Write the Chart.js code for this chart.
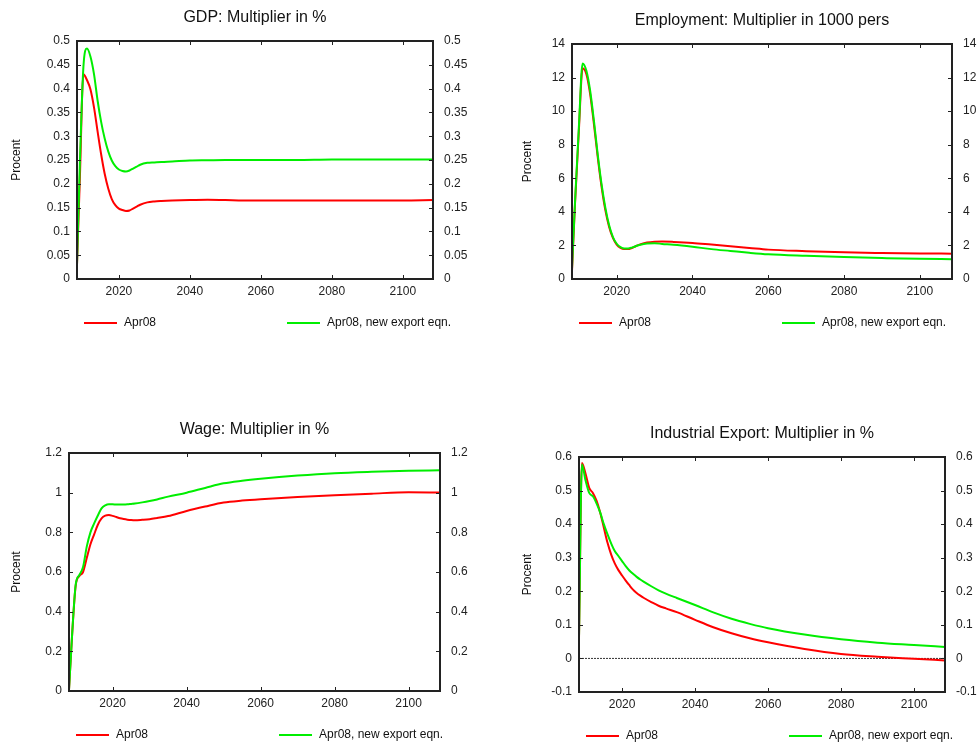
<!DOCTYPE html>
<html lang="en">
<head>
<meta charset="UTF-8">
<title>Multipliers: Apr08 vs new export eqn.</title>
<script src="https://cdn.jsdelivr.net/npm/chart.js"></script>
<style>
    body {
        margin: 0;
        background: #fff;
    }
    #wrap {
        position: relative;
        width: 979px;
        height: 745px;
    }
    canvas {
        position: absolute;
    }
</style>
</head>
<body>
<div id="wrap">
    <canvas id="gdp" width="490" height="370" style="left:0;top:0"></canvas>
    <canvas id="emp" width="489" height="370" style="left:490px;top:0"></canvas>
    <canvas id="wage" width="490" height="375" style="left:0;top:370px"></canvas>
    <canvas id="export" width="489" height="375" style="left:490px;top:370px"></canvas>
</div>
<script>
    // years shared by all four panels
    const years = [2008.2, 2009, 2010, 2011, 2012, 2013, 2014, 2015, 2016, 2017, 2018, 2019, 2020,
        2021, 2022, 2023, 2024, 2025, 2026, 2028, 2030, 2032, 2035, 2040, 2045, 2050, 2055, 2060,
        2070, 2080, 2090, 2100, 2108.5];
    const xTicks = [2020, 2040, 2060, 2080, 2100];
    const seriesNames = ["Apr08", "Apr08, new export eqn."];

    // GDP: Multiplier in %
    const gdpApr08 = [0.03, 0.21, 0.43, 0.418, 0.398, 0.36, 0.31, 0.262, 0.221, 0.19, 0.168, 0.155, 0.148,
        0.145, 0.143, 0.144, 0.148, 0.152, 0.156, 0.161, 0.163, 0.164, 0.165, 0.166, 0.1665, 0.166, 0.165, 0.165,
        0.165, 0.165, 0.165, 0.165, 0.166];
    const gdpNewExport = [0.03, 0.24, 0.445, 0.484, 0.467, 0.43, 0.375, 0.33, 0.295, 0.268, 0.249, 0.237, 0.23,
        0.227, 0.226, 0.228, 0.232, 0.236, 0.24, 0.244, 0.245, 0.246, 0.247, 0.249, 0.2495, 0.25, 0.25, 0.25,
        0.25, 0.251, 0.251, 0.251, 0.251];
    const gdpTicks = [0, 0.05, 0.1, 0.15, 0.2, 0.25, 0.3, 0.35, 0.4, 0.45, 0.5];

    // Employment: Multiplier in 1000 pers
    const empApr08 = [0.5, 4.5, 8.8, 12.55, 12.2, 11.0, 9.2, 7.25, 5.5, 4.1, 3.1, 2.45, 2.05,
        1.85, 1.78, 1.78, 1.85, 1.95, 2.05, 2.17, 2.22, 2.23, 2.21, 2.15, 2.05, 1.95, 1.85, 1.75,
        1.66, 1.59, 1.55, 1.52, 1.51];
    const empNewExport = [0.6, 4.6, 9.0, 12.84, 12.4, 11.2, 9.4, 7.4, 5.65, 4.25, 3.2, 2.5, 2.1,
        1.9, 1.82, 1.82, 1.87, 1.95, 2.03, 2.12, 2.13, 2.09, 2.04, 1.92, 1.78, 1.67, 1.56, 1.47,
        1.38, 1.31, 1.25, 1.2, 1.18];
    const empTicks = [0, 2, 4, 6, 8, 10, 12, 14];

    // Wage: Multiplier in %
    const wageApr08 = [0.005, 0.27, 0.53, 0.58, 0.60, 0.67, 0.74, 0.79, 0.838, 0.87, 0.884, 0.887, 0.883,
        0.877, 0.871, 0.867, 0.864, 0.862, 0.861, 0.863, 0.866, 0.872, 0.882, 0.908, 0.93, 0.95, 0.96, 0.967,
        0.978, 0.987, 0.995, 1.002, 1.001];
    const wageNewExport = [0.005, 0.27, 0.535, 0.585, 0.625, 0.728, 0.80, 0.845, 0.885, 0.921, 0.936, 0.941, 0.941,
        0.94, 0.94, 0.94, 0.941, 0.943, 0.945, 0.951, 0.958, 0.966, 0.98, 1.0, 1.024, 1.047, 1.06, 1.07,
        1.086, 1.098, 1.105, 1.11, 1.113];
    const wageTicks = [0, 0.2, 0.4, 0.6, 0.8, 1, 1.2];

    // Industrial Export: Multiplier in %
    const exportApr08 = [0.06, 0.582, 0.55, 0.508, 0.493, 0.47, 0.435, 0.39, 0.345, 0.31, 0.283, 0.263, 0.247,
        0.232, 0.218, 0.205, 0.195, 0.187, 0.18, 0.168, 0.157, 0.149, 0.138, 0.115, 0.093, 0.075, 0.06, 0.048,
        0.028, 0.013, 0.005, -0.001, -0.006];
    const exportNewExport = [0.06, 0.578, 0.53, 0.493, 0.483, 0.462, 0.435, 0.40, 0.37, 0.343, 0.32, 0.305, 0.29,
        0.275, 0.262, 0.252, 0.243, 0.235, 0.228, 0.215, 0.203, 0.193, 0.18, 0.159, 0.137, 0.118, 0.103, 0.09,
        0.071, 0.057, 0.047, 0.04, 0.034];
    const exportTicks = [-0.1, 0, 0.1, 0.2, 0.3, 0.4, 0.5, 0.6];

    const FONT = '"Liberation Sans", Arial, Helvetica, sans-serif';
    const RED = "#ff0000";
    const GREEN = "#00ee00";

    // layout of each panel: pixel widths of axis boxes around the plot frame
    const panels = [
        { id: "gdp", title: "GDP: Multiplier in %", a: gdpApr08, b: gdpNewExport, ticks: gdpTicks,
          top: 41, left: 77, right: 57, bottom: 91, labelX: 17 },
        { id: "emp", title: "Employment: Multiplier in 1000 pers", a: empApr08, b: empNewExport, ticks: empTicks,
          top: 44, left: 82, right: 27, bottom: 91, labelX: 38 },
        { id: "wage", title: "Wage: Multiplier in %", a: wageApr08, b: wageNewExport, ticks: wageTicks,
          top: 83, left: 69, right: 50, bottom: 54, labelX: 17 },
        { id: "export", title: "Industrial Export: Multiplier in %", a: exportApr08, b: exportNewExport, ticks: exportTicks,
          top: 87, left: 89, right: 34, bottom: 53, labelX: 38, zeroLine: true }
    ];

    // frame, inward ticks, title, y label, legend
    const decor = {
        id: "decor",
        beforeDatasetsDraw(chart, args, opts) {
            if (!opts.zeroLine) return;
            const { ctx, chartArea: a } = chart;
            const py = chart.scales.y.getPixelForValue(0);
            ctx.save();
            ctx.strokeStyle = "#333";
            ctx.lineWidth = 1;
            ctx.setLineDash([2, 1]);
            ctx.beginPath();
            ctx.moveTo(a.left, py);
            ctx.lineTo(a.right, py);
            ctx.stroke();
            ctx.restore();
        },
        afterDraw(chart, args, opts) {
            const { ctx, chartArea: a } = chart;
            const x = chart.scales.x, y = chart.scales.y;
            ctx.save();
            ctx.strokeStyle = "#222";
            ctx.lineWidth = 1;
            ctx.beginPath();
            y.ticks.forEach(t => {
                const py = Math.round(y.getPixelForValue(t.value)) + 0.5;
                ctx.moveTo(a.left, py); ctx.lineTo(a.left + 4, py);
                ctx.moveTo(a.right, py); ctx.lineTo(a.right - 4, py);
            });
            x.ticks.forEach(t => {
                const px = Math.round(x.getPixelForValue(t.value)) + 0.5;
                ctx.moveTo(px, a.bottom); ctx.lineTo(px, a.bottom - 4);
                ctx.moveTo(px, a.top); ctx.lineTo(px, a.top + 4);
            });
            ctx.stroke();
            ctx.lineWidth = 2;
            ctx.strokeRect(a.left, a.top, a.right - a.left, a.bottom - a.top);

            ctx.fillStyle = "#111";
            ctx.textAlign = "center";
            ctx.textBaseline = "middle";
            ctx.font = "16px " + FONT;
            ctx.fillText(opts.title, (a.left + a.right) / 2, a.top - 23);

            ctx.font = "12px " + FONT;
            ctx.save();
            ctx.translate(opts.labelX, (a.top + a.bottom) / 2);
            ctx.rotate(-Math.PI / 2);
            ctx.fillText("Procent", 0, 0);
            ctx.restore();

            // legend
            ctx.textAlign = "left";
            const ly = a.bottom + 44;
            chart.data.datasets.forEach((ds, i) => {
                const x0 = a.left + (i === 0 ? 7 : 210);
                ctx.strokeStyle = ds.borderColor;
                ctx.lineWidth = 2;
                ctx.beginPath();
                ctx.moveTo(x0, ly);
                ctx.lineTo(x0 + 33, ly);
                ctx.stroke();
                ctx.fillText(ds.label, x0 + 40, ly);
            });
            ctx.restore();
        }
    };

    function yAxis(p, position, pad, width) {
        return {
            position: position,
            min: p.ticks[0],
            max: p.ticks[p.ticks.length - 1],
            afterBuildTicks: s => { s.ticks = p.ticks.map(v => ({ value: v })); },
            afterFit: s => { s.width = width; },
            grid: { display: false, drawTicks: false },
            border: { display: false },
            ticks: {
                padding: pad,
                color: "#222",
                font: { family: FONT, size: 12 },
                callback: v => String(v)
            }
        };
    }

    panels.forEach(p => {
        const ctx = document.getElementById(p.id).getContext("2d");
        new Chart(ctx, {
            type: "line",
            data: {
                datasets: [
                    {
                        label: seriesNames[0],
                        data: years.map((yr, i) => ({ x: yr, y: p.a[i] })),
                        borderColor: RED,
                        borderWidth: 2,
                        pointRadius: 0,
                        cubicInterpolationMode: "monotone",
                        order: 2
                    },
                    {
                        label: seriesNames[1],
                        data: years.map((yr, i) => ({ x: yr, y: p.b[i] })),
                        borderColor: GREEN,
                        borderWidth: 2,
                        pointRadius: 0,
                        cubicInterpolationMode: "monotone",
                        order: 1
                    }
                ]
            },
            options: {
                responsive: false,
                animation: false,
                devicePixelRatio: 1,
                layout: { padding: { top: p.top, left: 0, right: 0, bottom: 0 } },
                plugins: {
                    legend: { display: false },
                    title: { display: false },
                    tooltip: { enabled: false },
                    decor: { title: p.title, labelX: p.labelX, zeroLine: !!p.zeroLine }
                },
                scales: {
                    x: {
                        type: "linear",
                        min: 2008.2,
                        max: 2108.5,
                        afterBuildTicks: s => { s.ticks = xTicks.map(v => ({ value: v })); },
                        afterFit: s => { s.height = p.bottom; },
                        grid: { display: false, drawTicks: false },
                        border: { display: false },
                        ticks: {
                            padding: 5,
                            color: "#222",
                            maxRotation: 0,
                            autoSkip: false,
                            font: { family: FONT, size: 12 },
                            callback: v => String(v)
                        }
                    },
                    y: yAxis(p, "left", 7, p.left),
                    y2: yAxis(p, "right", 11, p.right)
                }
            },
            plugins: [decor]
        });
    });
</script>
</body>
</html>
